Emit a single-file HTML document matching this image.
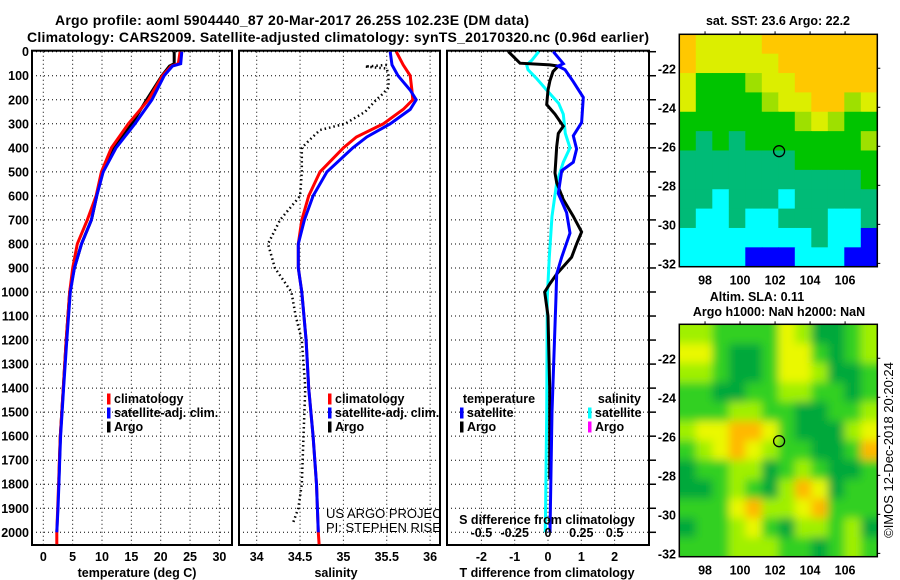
<!DOCTYPE html>
<html><head><meta charset="utf-8"><style>
body{margin:0;background:#fff;}
svg{display:block;font-family:"Liberation Sans",sans-serif;}
.b{font-weight:bold;font-size:12.5px;}
</style></head><body>
<svg id="chart" width="900" height="580" viewBox="0 0 900 580">
<defs>
<filter id="blur" x="0" y="0" width="100%" height="100%"><feGaussianBlur stdDeviation="4.5"/></filter>
<clipPath id="clipSla"><rect x="679" y="324" width="198.5" height="232.5"/></clipPath>
<clipPath id="clip2"><rect x="239" y="51" width="201" height="494"/></clipPath>
</defs>
<text x="292" y="25" text-anchor="middle" font-size="14" font-weight="bold" textLength="474">Argo profile: aoml 5904440_87 20-Mar-2017 26.25S 102.23E (DM data)</text>
<text x="338" y="42" text-anchor="middle" font-size="14" font-weight="bold" textLength="622">Climatology: CARS2009. Satellite-adjusted climatology: synTS_20170320.nc (0.96d earlier)</text>
<g id="plots"></g>
<g id="maps"></g>
<text x="778" y="25" text-anchor="middle" class="b">sat. SST: 23.6 Argo: 22.2</text>
<text x="757" y="301" text-anchor="middle" class="b">Altim. SLA: 0.11</text>
<text x="779" y="316" text-anchor="middle" class="b">Argo h1000: NaN h2000: NaN</text>
<text transform="translate(893,450) rotate(-90)" text-anchor="middle" font-size="13">©IMOS 12-Dec-2018 20:20:24</text>
</svg>
<script>
// ---- data ----
const tempClimDepth=[0,50,60,100,200,300,400,500,600,700,800,900,1000,1200,1400,1500,1600,1700,1800,1900,2000,2050];
const tempClim=[23.3,23.0,21.8,20.3,17.9,14.5,11.6,9.9,9.0,7.5,5.8,5.0,4.5,3.9,3.4,3.15,2.9,2.75,2.6,2.45,2.3,2.3];
const tempSatDepth=[0,50,60,100,200,300,400,500,600,700,800,900,1000,1200,1400,1500,1600,1700,1800,1900,2000];
const tempSat=[23.6,23.4,22.0,20.6,18.5,15.6,12.4,10.2,9.1,8.2,6.5,5.3,4.6,4.0,3.45,3.2,2.95,2.8,2.65,2.5,2.3];
const tempArgoDepth=[0,50,60,100,200,300,400,500,600,700,800,900,1000,1200,1400,1600,1780];
const tempArgo=[22.3,22.3,21.5,20.2,17.6,15.1,11.9,10.0,9.1,8.2,6.5,5.3,4.5,3.9,3.4,2.9,2.65];
const salClimDepth=[0,55,100,160,200,240,300,355,400,500,600,700,800,900,1000,1200,1400,1600,1800,2000,2050];
const salClim=[35.61,35.69,35.77,35.79,35.80,35.69,35.46,35.15,35.0,34.73,34.6,34.52,34.48,34.48,34.52,34.57,34.6,34.65,34.69,34.71,34.72];
const salSatDepth=[0,55,100,160,200,240,300,355,400,500,600,700,800,900,1000,1200,1400,1600,1800,2000];
const salSat=[35.54,35.56,35.63,35.77,35.84,35.77,35.54,35.27,35.11,34.81,34.65,34.55,34.48,34.48,34.52,34.57,34.6,34.65,34.69,34.71];
const salArgoDepth=[55,62,70,100,150,180,200,250,300,326,367,400,500,600,700,800,900,1000,1100,1200,1400,1600,1800,1900,1960];
const salArgo=[35.5,35.25,35.5,35.52,35.52,35.44,35.38,35.25,35.02,34.73,34.61,34.52,34.52,34.5,34.27,34.13,34.21,34.40,34.45,34.52,34.56,34.54,34.52,34.48,34.42];
const tdArgoDepth=[0,48,55,60,83,120,160,220,260,310,340,395,505,545,615,685,750,800,855,925,965,1000,1100,1400,1780];
const tdArgo=[-1.19,-0.84,0.06,0.31,0.15,0.06,0.0,-0.04,0.21,0.46,0.31,0.26,0.21,0.26,0.46,0.76,1.01,0.86,0.71,0.26,0.06,-0.1,0.0,0.05,0.05];
const tdSatDepth=[0,50,60,75,125,190,295,350,405,460,495,590,670,755,855,925,1020,1500,2000];
const tdSat=[0.16,0.46,0.3,0.51,0.76,1.06,1.01,0.76,0.86,0.76,0.41,0.31,0.56,0.66,0.41,0.26,0.24,0.12,0.06];
const sdSatDepth=[0,35,55,75,112,160,215,260,340,400,460,545,685,855,1020,1500,2000];
const sdSat=[-0.07,-0.12,-0.16,-0.15,-0.085,-0.01,0.08,0.115,0.13,0.165,0.115,0.065,0.03,0.01,-0.005,-0.01,-0.02];
const depthTicks=[0,100,200,300,400,500,600,700,800,900,1000,1100,1200,1300,1400,1500,1600,1700,1800,1900,2000];
const tempTicks=[0,5,10,15,20,25,30];
const salTicks=[34,34.5,35,35.5,36];
const salTickLabels=["34","34.5","35","35.5","36"];
const tdTicks=[-2,-1,0,1,2];
const sdTicks=[-0.5,-0.25,0,0.25,0.5];
const sdTickLabels=["-0.5","-0.25","0","0.25","0.5"];
const lonTicks=[98,100,102,104,106];
const latTicks=[-22,-24,-26,-28,-30,-32];
const sstGrid=["OYYYYOOOOOOO","OYYYYYOOOOOO","YGGGLYYOOOOO","YGGGGLYYOOLY","GGGGGGGLYLGG","GTGTGGGGGGGL","TTTTTTTGGGGG","TTTTTTTTTTTG","TTCTTTCTTTTT","TCCTCCTTTCCT","CCCCCCCCTCCB","CCCCBBBCCCBB"];
const slaGrid=["LLGGGGYLDDGL","YYGDDGYYGDGL","LLGDDGYYLDDG","GGDDGGLLGGDG","GGGLLGGDDGGL","LYYOOYGDDDLY","GLYOYLGGDDGO","DGGLLDGLGDDG","DDGLGDLOYDGG","GGGYOLLYOGGG","DGGLYGDLLGLD","GGGLLLGGDGLG"];
const profileLon=102.23, profileLat=-26.25;

// ---- helpers ----
const NS="http://www.w3.org/2000/svg";
const plots=document.getElementById('plots'), maps=document.getElementById('maps');
function mk(tag,attrs,parent){const e=document.createElementNS(NS,tag);for(const k in attrs)e.setAttribute(k,attrs[k]);(parent||plots).appendChild(e);return e;}
const top0=51.7, pxPerM=0.2403, bottomY=545;
const yD=d=>top0+d*pxPerM;
const xT=t=>43.3+t*5.87;
const xS=s=>256.7+(s-34)*86.7;
const xTd=u=>548+u*33.3;
const xSd=u=>548+u*133.2;
function pts(xs,ds,fx){return xs.map((v,i)=>fx(v).toFixed(1)+','+yD(ds[i]).toFixed(1)).join(' ');}

function panel(x0,x1,name,vgrid,fx){
  const g=mk('g',{});
  
  
  depthTicks.forEach(d=>{const l=mk('line',{x1:x0,x2:x1,y1:yD(d),y2:yD(d),stroke:'#000','stroke-width':1,'stroke-dasharray':'1,3'},g);
    });
  vgrid.forEach(v=>{const l=mk('line',{x1:fx(v),x2:fx(v),y1:top0,y2:bottomY,stroke:'#000','stroke-width':1,'stroke-dasharray':'1,3'},g);
    });
  const r=mk('rect',{x:x0,y:top0-1,width:x1-x0,height:bottomY-top0+1,fill:'none',stroke:'#000','stroke-width':2},g);
  
  return g;
}
function line(vals,ds,fx,color,name,extra){
  const p=mk('polyline',Object.assign({points:pts(vals,ds,fx),fill:'none',stroke:color,'stroke-width':3,'stroke-linejoin':'miter'},extra||{}));
  return p;
}
function txt(x,y,s,anchor,cls,name,size){
  const t=mk('text',{x:x,y:y,'text-anchor':anchor||'start','font-weight':'bold','font-size':size||12.5});
  t.textContent=s;return t;
}
function legendMark(x,y,color,name){const r=mk('rect',{x:x,y:y-5,width:3.5,height:11,fill:color});}

// ---- panel 1: temperature ----
panel(32,232,'temperature-panel',tempTicks,xT);
depthTicks.forEach(d=>txt(29,yD(d)+4.5,String(d),'end','','depth-tick-label'));
line(tempArgo,tempArgoDepth,xT,'#000','argo-temperature-line');
line(tempClim,tempClimDepth,xT,'#f00','climatology-temperature-line');
line(tempSat,tempSatDepth,xT,'#00f','satellite-temperature-line');
tempTicks.forEach(t=>txt(xT(t),561,String(t),'middle','','temperature-tick-label'));
txt(137,577,'temperature (deg C)','middle','','temperature-axis-title');
legendMark(107,398.5,'#f00','legend-climatology-marker');txt(114,403,'climatology','start','','legend-climatology');
legendMark(107,412.5,'#00f','legend-satellite-marker');txt(114,417,'satellite-adj. clim.','start','','legend-satellite');
legendMark(107,426.5,'#000','legend-argo-marker');txt(114,431,'Argo','start','','legend-argo');

// ---- panel 2: salinity ----
panel(239,440,'salinity-panel',salTicks,xS);
const cg=mk('g',{'clip-path':'url(#clip2)'});

const pa=mk('polyline',{points:pts(salArgo,salArgoDepth,xS),fill:'none',stroke:'#000','stroke-width':2.5,'stroke-dasharray':'1.5,3'},cg);

const pc=mk('polyline',{points:pts(salClim,salClimDepth,xS),fill:'none',stroke:'#f00','stroke-width':3},cg);

const ps=mk('polyline',{points:pts(salSat,salSatDepth,xS),fill:'none',stroke:'#00f','stroke-width':3},cg);

salTicks.forEach((s,i)=>txt(xS(s),561,salTickLabels[i],'middle','','salinity-tick-label'));
txt(336,577,'salinity','middle','','salinity-axis-title');
legendMark(328,398.5,'#f00','legend-climatology-marker-2');txt(335,403,'climatology','start','','legend-climatology-2');
legendMark(328,412.5,'#00f','legend-satellite-marker-2');txt(335,417,'satellite-adj. clim.','start','','legend-satellite-2');
legendMark(328,426.5,'#000','legend-argo-marker-2');txt(335,431,'Argo','start','','legend-argo-2');
const c1=mk('text',{x:326,y:518,'font-size':13,'clip-path':'url(#clip2)'});c1.textContent='US ARGO PROJECT';

const c2=mk('text',{x:326,y:532,'font-size':13,'clip-path':'url(#clip2)'});c2.textContent='PI: STEPHEN RISER';


// ---- panel 3: differences ----
panel(447,649,'difference-panel',tdTicks,xTd);
depthTicks.forEach(d=>{const l=mk('line',{x1:649,x2:656,y1:yD(d),y2:yD(d),stroke:'#000','stroke-width':1.5});});
line(sdSat,sdSatDepth,xSd,'#0ff','satellite-salinity-diff-line');
line(tdArgo,tdArgoDepth,xTd,'#000','argo-temperature-diff-line');
line(tdSat,tdSatDepth,xTd,'#00f','satellite-temperature-diff-line');
tdTicks.forEach(t=>txt(xTd(t),561,String(t),'middle','','tdiff-tick-label'));
txt(547,577,'T difference from climatology','middle','','tdiff-axis-title');
sdTicks.forEach((s,i)=>txt(xSd(s),537,sdTickLabels[i],'middle','','sdiff-tick-label'));
txt(547,524,'S difference from climatology','middle','','sdiff-axis-title');
txt(499,403,'temperature','middle','','legend-temperature-header');
legendMark(460,412.5,'#00f','legend-t-satellite-marker');txt(467,417,'satellite','start','','legend-t-satellite');
legendMark(460,426.5,'#000','legend-t-argo-marker');txt(467,431,'Argo','start','','legend-t-argo');
txt(641,403,'salinity','end','','legend-salinity-header');
legendMark(588,412.5,'#0ff','legend-s-satellite-marker');txt(595,417,'satellite','start','','legend-s-satellite');
legendMark(588,426.5,'#f0f','legend-s-argo-marker');txt(595,431,'Argo','start','','legend-s-argo');

// ---- maps ----
const mx0=679.3,mx1=877.3,lonMin=96.53,lonMax=107.84,latTop=-20.26,latBot=-32.17;
const xLon=l=>mx0+(l-lonMin)*(mx1-mx0)/(lonMax-lonMin);
const sstCol={O:'#ffc800',Y:'#dcee00',L:'#9ee000',G:'#00c400',T:'#00bb77',C:'#00ffff',B:'#0000ff'};
const slaCol={D:'#00a83a',G:'#30d020',L:'#a0f000',Y:'#eaf800',O:'#ffb800'};
function drawMap(y0,y1,grid,cols,name,blur){
  const g=mk('g',{},maps);
  const yLat=l=>y0+(latTop-l)*(y1-y0)/(latTop-latBot);
  const inner=mk('g',blur?{'clip-path':'url(#clipSla)'}:{},g);
  const cellsG=mk('g',blur?{filter:'url(#blur)'}:{},inner);
  const nr=grid.length,nc=grid[0].length,cw=(mx1-mx0)/nc,ch=(y1-y0)/nr,pad=blur?20:0;
  grid.forEach((row,r)=>{[...row].forEach((c,k)=>{
    let x=mx0+k*cw,y=y0+r*ch,w=cw+0.6,h=ch+0.6;
    if(blur){if(k==0){x-=pad;w+=pad;}if(k==nc-1)w+=pad;if(r==0){y-=pad;h+=pad;}if(r==nr-1)h+=pad;}
    const rc=mk('rect',{x:x,y:y,width:w,height:h,fill:cols[c]},cellsG);
    });});
  const fr=mk('rect',{x:mx0,y:y0,width:mx1-mx0,height:y1-y0,fill:'none',stroke:'#000','stroke-width':1.5},g);
  
  const cc=mk('circle',{cx:xLon(profileLon),cy:yLat(profileLat),r:5.5,fill:'none',stroke:'#000','stroke-width':1.3},g);
  
  lonTicks.forEach(l=>{const t=mk('text',{x:xLon(l),y:y1+18,'text-anchor':'middle','font-weight':'bold','font-size':12.5},g);t.textContent=String(l);
    
    const tk=mk('line',{x1:xLon(l),x2:xLon(l),y1:y0-3,y2:y0,stroke:'#000'},g);});
  latTicks.forEach(l=>{const t=mk('text',{x:676,y:yLat(l)+5,'text-anchor':'end','font-weight':'bold','font-size':12.5},g);t.textContent=String(l);
    
    const tk=mk('line',{x1:mx1,x2:mx1+3,y1:yLat(l),y2:yLat(l),stroke:'#000'},g);});
}
drawMap(34.3,266.7,sstGrid,sstCol,'sst-map',false);
drawMap(324.3,556.7,slaGrid,slaCol,'sla-map',true);
</script>
</body></html>
